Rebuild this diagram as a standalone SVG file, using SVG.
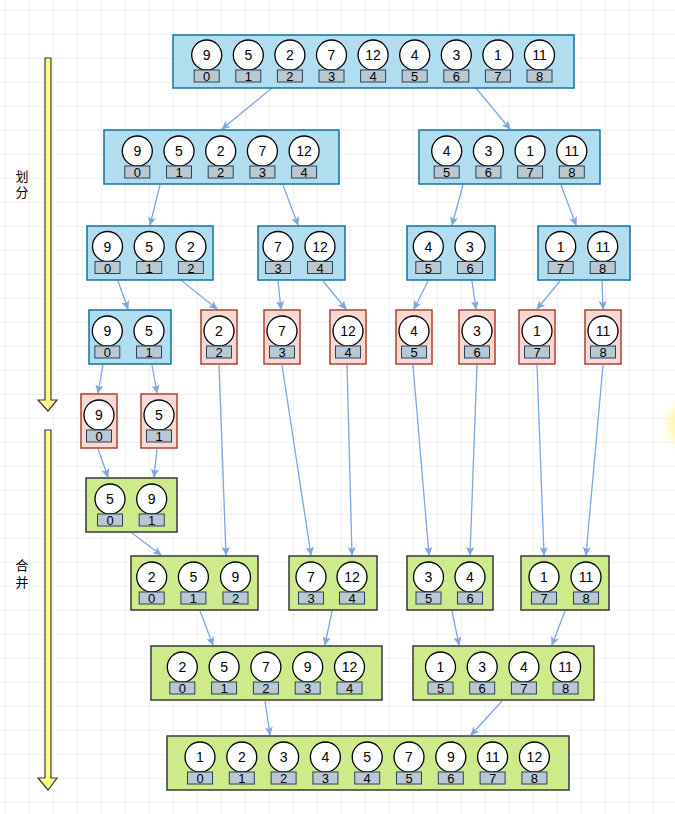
<svg xmlns="http://www.w3.org/2000/svg" width="675" height="814" viewBox="0 0 675 814">
<defs>
<pattern id="grid" x="5" y="10" width="24" height="24" patternUnits="userSpaceOnUse">
<path d="M0 0H24M0 0V24" fill="none" stroke="#e4e4e4" stroke-width="1"/>
</pattern>
<radialGradient id="glow" cx="0.5" cy="0.5" r="0.5">
<stop offset="0" stop-color="#fff27a" stop-opacity="0.95"/>
<stop offset="0.6" stop-color="#fff59a" stop-opacity="0.6"/>
<stop offset="1" stop-color="#fffbe0" stop-opacity="0"/>
</radialGradient>
<marker id="ah" markerWidth="9" markerHeight="8" refX="8" refY="4" orient="auto" markerUnits="userSpaceOnUse">
<path d="M0,0 L9,4 L0,8 L2,4 Z" fill="#7ea6e0"/>
</marker>
<style>
.blue{fill:#b1ddf0;stroke:#10739e;stroke-width:1.5}
.red{fill:#fad9d5;stroke:#ae4132;stroke-width:1.5}
.green{fill:#cdeb8b;stroke:#36393d;stroke-width:1.5}
.c{fill:#fff;stroke:#000;stroke-width:1.3}
.i{fill:#bac8d3;stroke:#23445d;stroke-width:1}
.v{font-family:"Liberation Sans",Arial,sans-serif;font-size:14px;text-anchor:middle;fill:#000}
.n{font-family:"Liberation Sans",Arial,sans-serif;font-size:13px;text-anchor:middle;fill:#000}
.lbl{font-family:"Liberation Sans","Noto Sans CJK SC",sans-serif;font-size:13px;text-anchor:middle;fill:#000}
.e{fill:none;stroke:#7ea6e0;stroke-width:1.3;marker-end:url(#ah)}
.ya{fill:#ffff88;stroke:#36393d;stroke-width:1.2}
</style>
</defs>
<rect width="675" height="814" fill="#fff"/>
<rect width="675" height="814" fill="url(#grid)"/>
<circle cx="690" cy="425" r="32" fill="url(#glow)"/>

<g id="arrow-divide"><path class="ya" d="M45,58 H51 V400 H57 L48,411 L38,400 H45 Z"/></g>
<g id="arrow-merge"><path class="ya" d="M45,430 H51 V778 H57 L48,790 L38,778 H45 Z"/></g>
<g id="label-divide"><text class="lbl" x="22" y="181">划</text><text class="lbl" x="22" y="197">分</text></g>
<g id="label-merge"><text class="lbl" x="22" y="570">合</text><text class="lbl" x="22" y="587">并</text></g>

<g id="connectors">
<path class="e" d="M272,88 L222,129"/>
<path class="e" d="M476,88 L510,129"/>
<path class="e" d="M160,185 L150,225"/>
<path class="e" d="M283,185 L298,225"/>
<path class="e" d="M463,185 L452,225"/>
<path class="e" d="M561,185 L576,225"/>
<path class="e" d="M118,281 L128,309"/>
<path class="e" d="M182,281 L217,309"/>
<path class="e" d="M278,281 L281,309"/>
<path class="e" d="M323,281 L346,309"/>
<path class="e" d="M428,281 L414,309"/>
<path class="e" d="M472,281 L476,309"/>
<path class="e" d="M560,281 L537,309"/>
<path class="e" d="M602,281 L603,309"/>
<path class="e" d="M103,365 L98,393"/>
<path class="e" d="M152,365 L157,393"/>
<path class="e" d="M98,449 L108,477"/>
<path class="e" d="M157,449 L154,477"/>
<path class="e" d="M219,365 L226,555"/>
<path class="e" d="M282,365 L311,555"/>
<path class="e" d="M347,365 L352,555"/>
<path class="e" d="M413,365 L429,555"/>
<path class="e" d="M477,365 L470,555"/>
<path class="e" d="M537,365 L544,555"/>
<path class="e" d="M603,365 L586,555"/>
<path class="e" d="M132,533 L161,555"/>
<path class="e" d="M200,611 L213,645"/>
<path class="e" d="M332,611 L325,645"/>
<path class="e" d="M452,611 L459,645"/>
<path class="e" d="M565,611 L552,645"/>
<path class="e" d="M265,701 L270,735"/>
<path class="e" d="M502,701 L471,735"/>
</g>

<!-- Row 1 -->
<g id="r1">
<rect class="blue" x="173" y="35" width="401" height="53"/>
<g transform="translate(206.7,55)"><circle class="c" r="15"/><text class="v" y="5">9</text><rect class="i" x="-12.5" y="15" width="25" height="12"/><text class="n" y="26">0</text></g>
<g transform="translate(248.3,55)"><circle class="c" r="15"/><text class="v" y="5">5</text><rect class="i" x="-12.5" y="15" width="25" height="12"/><text class="n" y="26">1</text></g>
<g transform="translate(289.9,55)"><circle class="c" r="15"/><text class="v" y="5">2</text><rect class="i" x="-12.5" y="15" width="25" height="12"/><text class="n" y="26">2</text></g>
<g transform="translate(331.5,55)"><circle class="c" r="15"/><text class="v" y="5">7</text><rect class="i" x="-12.5" y="15" width="25" height="12"/><text class="n" y="26">3</text></g>
<g transform="translate(373.1,55)"><circle class="c" r="15"/><text class="v" y="5">12</text><rect class="i" x="-12.5" y="15" width="25" height="12"/><text class="n" y="26">4</text></g>
<g transform="translate(414.7,55)"><circle class="c" r="15"/><text class="v" y="5">4</text><rect class="i" x="-12.5" y="15" width="25" height="12"/><text class="n" y="26">5</text></g>
<g transform="translate(456.3,55)"><circle class="c" r="15"/><text class="v" y="5">3</text><rect class="i" x="-12.5" y="15" width="25" height="12"/><text class="n" y="26">6</text></g>
<g transform="translate(497.9,55)"><circle class="c" r="15"/><text class="v" y="5">1</text><rect class="i" x="-12.5" y="15" width="25" height="12"/><text class="n" y="26">7</text></g>
<g transform="translate(539.5,55)"><circle class="c" r="15"/><text class="v" y="5">11</text><rect class="i" x="-12.5" y="15" width="25" height="12"/><text class="n" y="26">8</text></g>
</g>

<!-- Row 2 -->
<g id="r2a">
<rect class="blue" x="104" y="130" width="235" height="54"/>
<g transform="translate(137.3,151)"><circle class="c" r="15"/><text class="v" y="5">9</text><rect class="i" x="-12.5" y="15" width="25" height="12"/><text class="n" y="26">0</text></g>
<g transform="translate(179,151)"><circle class="c" r="15"/><text class="v" y="5">5</text><rect class="i" x="-12.5" y="15" width="25" height="12"/><text class="n" y="26">1</text></g>
<g transform="translate(220.7,151)"><circle class="c" r="15"/><text class="v" y="5">2</text><rect class="i" x="-12.5" y="15" width="25" height="12"/><text class="n" y="26">2</text></g>
<g transform="translate(262.4,151)"><circle class="c" r="15"/><text class="v" y="5">7</text><rect class="i" x="-12.5" y="15" width="25" height="12"/><text class="n" y="26">3</text></g>
<g transform="translate(304.1,151)"><circle class="c" r="15"/><text class="v" y="5">12</text><rect class="i" x="-12.5" y="15" width="25" height="12"/><text class="n" y="26">4</text></g>
</g>
<g id="r2b">
<rect class="blue" x="419" y="130" width="181" height="54"/>
<g transform="translate(446.7,151)"><circle class="c" r="15"/><text class="v" y="5">4</text><rect class="i" x="-12.5" y="15" width="25" height="12"/><text class="n" y="26">5</text></g>
<g transform="translate(488.4,151)"><circle class="c" r="15"/><text class="v" y="5">3</text><rect class="i" x="-12.5" y="15" width="25" height="12"/><text class="n" y="26">6</text></g>
<g transform="translate(530.1,151)"><circle class="c" r="15"/><text class="v" y="5">1</text><rect class="i" x="-12.5" y="15" width="25" height="12"/><text class="n" y="26">7</text></g>
<g transform="translate(571.8,151)"><circle class="c" r="15"/><text class="v" y="5">11</text><rect class="i" x="-12.5" y="15" width="25" height="12"/><text class="n" y="26">8</text></g>
</g>

<!-- Row 3 -->
<g id="r3a">
<rect class="blue" x="87" y="226" width="126" height="54"/>
<g transform="translate(107.5,246.5)"><circle class="c" r="15"/><text class="v" y="5">9</text><rect class="i" x="-12.5" y="15" width="25" height="12"/><text class="n" y="26">0</text></g>
<g transform="translate(149.2,246.5)"><circle class="c" r="15"/><text class="v" y="5">5</text><rect class="i" x="-12.5" y="15" width="25" height="12"/><text class="n" y="26">1</text></g>
<g transform="translate(190.9,246.5)"><circle class="c" r="15"/><text class="v" y="5">2</text><rect class="i" x="-12.5" y="15" width="25" height="12"/><text class="n" y="26">2</text></g>
</g>
<g id="r3b">
<rect class="blue" x="258" y="226" width="87" height="54"/>
<g transform="translate(278,246.5)"><circle class="c" r="15"/><text class="v" y="5">7</text><rect class="i" x="-12.5" y="15" width="25" height="12"/><text class="n" y="26">3</text></g>
<g transform="translate(320,246.5)"><circle class="c" r="15"/><text class="v" y="5">12</text><rect class="i" x="-12.5" y="15" width="25" height="12"/><text class="n" y="26">4</text></g>
</g>
<g id="r3c">
<rect class="blue" x="407" y="226" width="88" height="54"/>
<g transform="translate(428.3,246.5)"><circle class="c" r="15"/><text class="v" y="5">4</text><rect class="i" x="-12.5" y="15" width="25" height="12"/><text class="n" y="26">5</text></g>
<g transform="translate(470,246.5)"><circle class="c" r="15"/><text class="v" y="5">3</text><rect class="i" x="-12.5" y="15" width="25" height="12"/><text class="n" y="26">6</text></g>
</g>
<g id="r3d">
<rect class="blue" x="538" y="226" width="92" height="54"/>
<g transform="translate(560.7,246.5)"><circle class="c" r="15"/><text class="v" y="5">1</text><rect class="i" x="-12.5" y="15" width="25" height="12"/><text class="n" y="26">7</text></g>
<g transform="translate(602.7,246.5)"><circle class="c" r="15"/><text class="v" y="5">11</text><rect class="i" x="-12.5" y="15" width="25" height="12"/><text class="n" y="26">8</text></g>
</g>

<!-- Row 4 -->
<g id="r4a">
<rect class="blue" x="89" y="310" width="82" height="54"/>
<g transform="translate(107.3,331)"><circle class="c" r="15"/><text class="v" y="5">9</text><rect class="i" x="-12.5" y="15" width="25" height="12"/><text class="n" y="26">0</text></g>
<g transform="translate(149,331)"><circle class="c" r="15"/><text class="v" y="5">5</text><rect class="i" x="-12.5" y="15" width="25" height="12"/><text class="n" y="26">1</text></g>
</g>
<g id="r4-2"><rect class="red" x="201" y="310" width="36" height="54"/>
<g transform="translate(219,331)"><circle class="c" r="15"/><text class="v" y="5">2</text><rect class="i" x="-12.5" y="15" width="25" height="12"/><text class="n" y="26">2</text></g></g>
<g id="r4-7"><rect class="red" x="264" y="310" width="36" height="54"/>
<g transform="translate(282,331)"><circle class="c" r="15"/><text class="v" y="5">7</text><rect class="i" x="-12.5" y="15" width="25" height="12"/><text class="n" y="26">3</text></g></g>
<g id="r4-12"><rect class="red" x="330" y="310" width="36" height="54"/>
<g transform="translate(348,331)"><circle class="c" r="15"/><text class="v" y="5">12</text><rect class="i" x="-12.5" y="15" width="25" height="12"/><text class="n" y="26">4</text></g></g>
<g id="r4-4"><rect class="red" x="396" y="310" width="36" height="54"/>
<g transform="translate(414,331)"><circle class="c" r="15"/><text class="v" y="5">4</text><rect class="i" x="-12.5" y="15" width="25" height="12"/><text class="n" y="26">5</text></g></g>
<g id="r4-3"><rect class="red" x="459" y="310" width="36" height="54"/>
<g transform="translate(477,331)"><circle class="c" r="15"/><text class="v" y="5">3</text><rect class="i" x="-12.5" y="15" width="25" height="12"/><text class="n" y="26">6</text></g></g>
<g id="r4-1"><rect class="red" x="519" y="310" width="36" height="54"/>
<g transform="translate(537,331)"><circle class="c" r="15"/><text class="v" y="5">1</text><rect class="i" x="-12.5" y="15" width="25" height="12"/><text class="n" y="26">7</text></g></g>
<g id="r4-11"><rect class="red" x="585" y="310" width="36" height="54"/>
<g transform="translate(603,331)"><circle class="c" r="15"/><text class="v" y="5">11</text><rect class="i" x="-12.5" y="15" width="25" height="12"/><text class="n" y="26">8</text></g></g>

<!-- Row 5 -->
<g id="r5-9"><rect class="red" x="81" y="394" width="36" height="54"/>
<g transform="translate(99,415)"><circle class="c" r="15"/><text class="v" y="5">9</text><rect class="i" x="-12.5" y="15" width="25" height="12"/><text class="n" y="26">0</text></g></g>
<g id="r5-5"><rect class="red" x="141" y="394" width="36" height="54"/>
<g transform="translate(159,415)"><circle class="c" r="15"/><text class="v" y="5">5</text><rect class="i" x="-12.5" y="15" width="25" height="12"/><text class="n" y="26">1</text></g></g>

<!-- Row 6 -->
<g id="r6">
<rect class="green" x="86" y="478" width="91" height="54"/>
<g transform="translate(110,499)"><circle class="c" r="15"/><text class="v" y="5">5</text><rect class="i" x="-12.5" y="15" width="25" height="12"/><text class="n" y="26">0</text></g>
<g transform="translate(151.7,499)"><circle class="c" r="15"/><text class="v" y="5">9</text><rect class="i" x="-12.5" y="15" width="25" height="12"/><text class="n" y="26">1</text></g>
</g>

<!-- Row 7 -->
<g id="r7a">
<rect class="green" x="131" y="556" width="127" height="54"/>
<g transform="translate(151.7,577)"><circle class="c" r="15"/><text class="v" y="5">2</text><rect class="i" x="-12.5" y="15" width="25" height="12"/><text class="n" y="26">0</text></g>
<g transform="translate(193.4,577)"><circle class="c" r="15"/><text class="v" y="5">5</text><rect class="i" x="-12.5" y="15" width="25" height="12"/><text class="n" y="26">1</text></g>
<g transform="translate(235.5,577)"><circle class="c" r="15"/><text class="v" y="5">9</text><rect class="i" x="-12.5" y="15" width="25" height="12"/><text class="n" y="26">2</text></g>
</g>
<g id="r7b">
<rect class="green" x="289" y="556" width="88" height="54"/>
<g transform="translate(311,577)"><circle class="c" r="15"/><text class="v" y="5">7</text><rect class="i" x="-12.5" y="15" width="25" height="12"/><text class="n" y="26">3</text></g>
<g transform="translate(352,577)"><circle class="c" r="15"/><text class="v" y="5">12</text><rect class="i" x="-12.5" y="15" width="25" height="12"/><text class="n" y="26">4</text></g>
</g>
<g id="r7c">
<rect class="green" x="407" y="556" width="86" height="54"/>
<g transform="translate(428.5,577)"><circle class="c" r="15"/><text class="v" y="5">3</text><rect class="i" x="-12.5" y="15" width="25" height="12"/><text class="n" y="26">5</text></g>
<g transform="translate(470,577)"><circle class="c" r="15"/><text class="v" y="5">4</text><rect class="i" x="-12.5" y="15" width="25" height="12"/><text class="n" y="26">6</text></g>
</g>
<g id="r7d">
<rect class="green" x="521" y="556" width="88" height="54"/>
<g transform="translate(544,577)"><circle class="c" r="15"/><text class="v" y="5">1</text><rect class="i" x="-12.5" y="15" width="25" height="12"/><text class="n" y="26">7</text></g>
<g transform="translate(586,577)"><circle class="c" r="15"/><text class="v" y="5">11</text><rect class="i" x="-12.5" y="15" width="25" height="12"/><text class="n" y="26">8</text></g>
</g>

<!-- Row 8 -->
<g id="r8a">
<rect class="green" x="151" y="646" width="231" height="54"/>
<g transform="translate(182.3,667)"><circle class="c" r="15"/><text class="v" y="5">2</text><rect class="i" x="-12.5" y="15" width="25" height="12"/><text class="n" y="26">0</text></g>
<g transform="translate(224.1,667)"><circle class="c" r="15"/><text class="v" y="5">5</text><rect class="i" x="-12.5" y="15" width="25" height="12"/><text class="n" y="26">1</text></g>
<g transform="translate(265.9,667)"><circle class="c" r="15"/><text class="v" y="5">7</text><rect class="i" x="-12.5" y="15" width="25" height="12"/><text class="n" y="26">2</text></g>
<g transform="translate(307.7,667)"><circle class="c" r="15"/><text class="v" y="5">9</text><rect class="i" x="-12.5" y="15" width="25" height="12"/><text class="n" y="26">3</text></g>
<g transform="translate(349.5,667)"><circle class="c" r="15"/><text class="v" y="5">12</text><rect class="i" x="-12.5" y="15" width="25" height="12"/><text class="n" y="26">4</text></g>
</g>
<g id="r8b">
<rect class="green" x="413" y="646" width="181" height="54"/>
<g transform="translate(440.5,667)"><circle class="c" r="15"/><text class="v" y="5">1</text><rect class="i" x="-12.5" y="15" width="25" height="12"/><text class="n" y="26">5</text></g>
<g transform="translate(482.2,667)"><circle class="c" r="15"/><text class="v" y="5">3</text><rect class="i" x="-12.5" y="15" width="25" height="12"/><text class="n" y="26">6</text></g>
<g transform="translate(523.9,667)"><circle class="c" r="15"/><text class="v" y="5">4</text><rect class="i" x="-12.5" y="15" width="25" height="12"/><text class="n" y="26">7</text></g>
<g transform="translate(565.6,667)"><circle class="c" r="15"/><text class="v" y="5">11</text><rect class="i" x="-12.5" y="15" width="25" height="12"/><text class="n" y="26">8</text></g>
</g>

<!-- Row 9 -->
<g id="r9">
<rect class="green" x="167" y="736" width="402" height="54"/>
<g transform="translate(200,757)"><circle class="c" r="15"/><text class="v" y="5">1</text><rect class="i" x="-12.5" y="15" width="25" height="12"/><text class="n" y="26">0</text></g>
<g transform="translate(241.8,757)"><circle class="c" r="15"/><text class="v" y="5">2</text><rect class="i" x="-12.5" y="15" width="25" height="12"/><text class="n" y="26">1</text></g>
<g transform="translate(283.6,757)"><circle class="c" r="15"/><text class="v" y="5">3</text><rect class="i" x="-12.5" y="15" width="25" height="12"/><text class="n" y="26">2</text></g>
<g transform="translate(325.4,757)"><circle class="c" r="15"/><text class="v" y="5">4</text><rect class="i" x="-12.5" y="15" width="25" height="12"/><text class="n" y="26">3</text></g>
<g transform="translate(367.2,757)"><circle class="c" r="15"/><text class="v" y="5">5</text><rect class="i" x="-12.5" y="15" width="25" height="12"/><text class="n" y="26">4</text></g>
<g transform="translate(409,757)"><circle class="c" r="15"/><text class="v" y="5">7</text><rect class="i" x="-12.5" y="15" width="25" height="12"/><text class="n" y="26">5</text></g>
<g transform="translate(450.8,757)"><circle class="c" r="15"/><text class="v" y="5">9</text><rect class="i" x="-12.5" y="15" width="25" height="12"/><text class="n" y="26">6</text></g>
<g transform="translate(492.6,757)"><circle class="c" r="15"/><text class="v" y="5">11</text><rect class="i" x="-12.5" y="15" width="25" height="12"/><text class="n" y="26">7</text></g>
<g transform="translate(534.4,757)"><circle class="c" r="15"/><text class="v" y="5">12</text><rect class="i" x="-12.5" y="15" width="25" height="12"/><text class="n" y="26">8</text></g>
</g>
</svg>
